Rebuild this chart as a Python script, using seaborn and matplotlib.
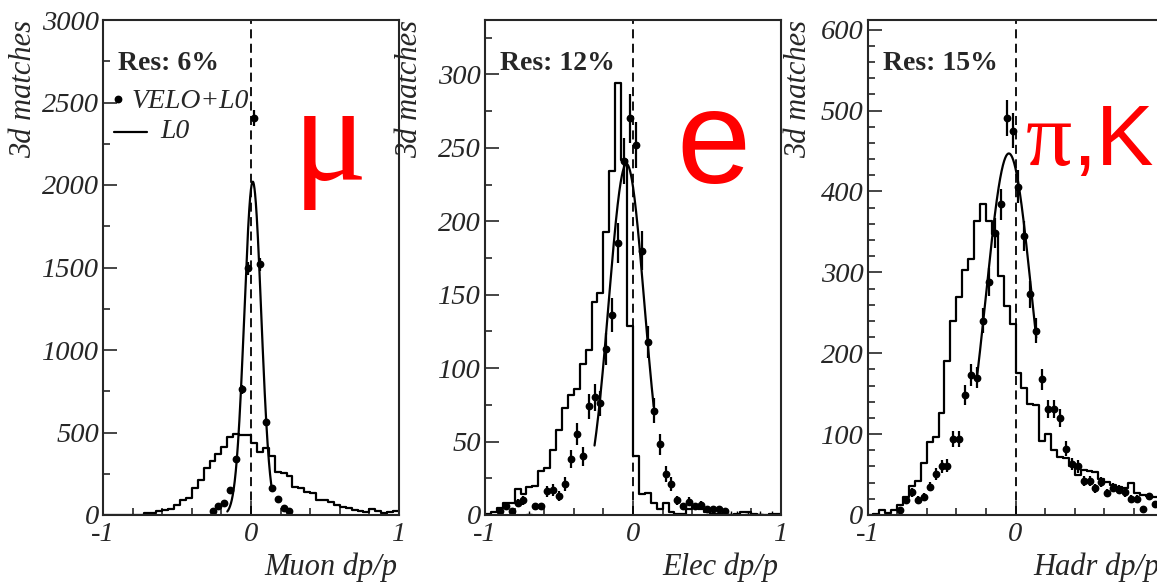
import matplotlib
matplotlib.use('Agg')
import numpy as np
import pandas as pd
import seaborn as sns
import matplotlib.pyplot as plt
from matplotlib.ticker import MultipleLocator

# =========================================
# DATA  (50 bins of 0.04 on [-1, 1])
# =========================================

bin_width = 0.04
bin_centers = np.arange(-1 + bin_width / 2, 1, bin_width)

# L0 only: histogram counts per bin
muon_l0 = [0, 0, 0, 0, 0, 0, 3, 12, 15, 24,
           30, 34, 62, 88, 105, 165, 215, 285, 330, 368,
           410, 475, 490, 487, 483, 438, 384, 404, 360, 263,
           252, 236, 172, 162, 141, 131, 91, 91, 81, 61,
           47, 40, 30, 26, 20, 34, 26, 14, 20, 26]
elec_l0 = [1, 2, 5, 8, 8, 18, 14, 19, 20, 30,
           32, 44, 58, 73, 82, 86, 103, 112, 145, 151,
           193, 234, 294, 242, 129, 40, 14, 15, 8, 4,
           8, 2, 1, 1, 4, 6, 4, 2, 1, 1,
           0, 0, 1, 2, 2, 1, 0, 0, 1, 1]
hadr_l0 = [0, 1, 6, 2, 6, 12, 22, 36, 42, 64,
           90, 96, 126, 191, 240, 270, 303, 316, 364, 384,
           363, 348, 295, 258, 236, 176, 157, 137, 136, 91,
           100, 80, 72, 70, 60, 50, 56, 55, 53, 44,
           41, 37, 35, 34, 40, 27, 25, 24, 22, 22]

# VELO+L0: counts per bin (0 = empty bin, not drawn)
muon_velo = [0, 0, 0, 0, 0, 0, 0, 0, 0, 0,
             0, 0, 0, 0, 0, 0, 0, 0, 24, 55,
             75, 152, 337, 763, 1495, 2404, 1519, 562, 162, 97,
             40, 24, 0, 0, 0, 0, 0, 0, 0, 0,
             0, 0, 0, 0, 0, 0, 0, 0, 0, 0]
elec_velo = [0, 0, 3, 6, 3, 8, 10, 1, 6, 6,
             16, 17, 13, 21, 38, 55, 40, 74, 80, 76,
             113, 136, 185, 241, 270, 252, 180, 118, 71, 48,
             28, 21, 10, 6, 9, 6, 7, 4, 4, 4,
             3, 1, 1, 0, 1, 0, 1, 0, 1, 0]
hadr_velo = [0, 0, 0, 0, 0, 6, 18, 28, 19, 22,
             35, 51, 60, 61, 94, 94, 148, 173, 170, 240,
             288, 349, 384, 491, 475, 406, 345, 273, 228, 168,
             131, 131, 120, 82, 63, 60, 42, 42, 33, 41,
             27, 34, 31, 28, 20, 20, 8, 23, 14, 15]

# gaussian fit on VELO+L0
fit_amp = [2020, 239, 447]
fit_mean = [0.012, -0.044, -0.045]
fit_sigma = [0.057, 0.12, 0.155]
fit_lo = [-0.16, -0.26, -0.26]
fit_hi = [0.14, 0.14, 0.14]

panel_res = ["Res: 6%", "Res: 12%", "Res: 15%"]
panel_xlabel = ["Muon dp/p", "Elec dp/p", "Hadr dp/p"]
panel_ymax = [3000, 337, 612]
panel_ymajor = [500, 50, 100]
panel_yminor = [250, 25, 20]

l0_all = [muon_l0, elec_l0, hadr_l0]
velo_all = [muon_velo, elec_velo, hadr_velo]

# =========================================
# STYLE
# =========================================

sns.set_style("ticks")
plt.rcParams['font.family'] = ['Liberation Serif', 'DejaVu Serif']
plt.rcParams['font.style'] = 'italic'
plt.rcParams['axes.unicode_minus'] = False
plt.rcParams['axes.linewidth'] = 1.5

W, H = 1157, 584
fig = plt.figure(figsize=(W / 100, H / 100), dpi=100)

ax_left_px = [103, 485, 867.5]
ylab_x_px = [24, 410, 799]
xlab_right_px = [397, 778, 1160]
res_x_px = [118, 500, 883]

for i in range(3):

    ax = fig.add_axes([ax_left_px[i] / W, 69 / H, 296 / W, 495 / H])

    # L0 histogram
    df_l0 = pd.DataFrame({"dpp": bin_centers, "n": l0_all[i]})
    sns.histplot(
        data=df_l0,
        x="dpp",
        weights="n",
        binwidth=bin_width,
        binrange=(-1, 1),
        element="step",
        fill=False,
        color="black",
        linewidth=1.6,
        ax=ax
    )

    # VELO+L0 points with poisson errors
    velo = np.array(velo_all[i], dtype=float)
    big = velo > 1
    small = (velo > 0) & (velo <= 1)
    ax.errorbar(
        bin_centers[big], velo[big], yerr=np.sqrt(velo[big]),
        fmt='o', ms=4.6, color='black', elinewidth=1.6, capsize=0
    )
    if small.any():
        ax.plot(bin_centers[small], velo[small], '+', ms=5,
                color='black', mew=1.0)

    # fit curve
    fx = np.linspace(fit_lo[i], fit_hi[i], 300)
    fy = fit_amp[i] * np.exp(-(fx - fit_mean[i]) ** 2 / (2 * fit_sigma[i] ** 2))
    sns.lineplot(x=fx, y=fy, color="black", linewidth=1.6, ax=ax)

    ax.axvline(0, color='black', linestyle=(0, (5, 3)), linewidth=1.3)

    ax.set_xlim(-1, 1)
    ax.set_ylim(0, panel_ymax[i])
    ax.set_xlabel("")
    ax.set_ylabel("")

    ax.set_xticks([-1, 0, 1])
    ax.set_xticklabels(["-1", "0", "1"])
    ax.xaxis.set_minor_locator(MultipleLocator(0.2))
    ax.yaxis.set_major_locator(MultipleLocator(panel_ymajor[i]))
    ax.yaxis.set_minor_locator(MultipleLocator(panel_yminor[i]))

    ax.tick_params(axis='both', which='major', direction='in', length=10,
                   width=1.2, labelsize=20.5, top=False, right=False)
    ax.tick_params(axis='both', which='minor', direction='in', length=5,
                   width=1.2, top=False, right=False)
    ax.tick_params(axis='y', which='major', pad=3)
    ax.tick_params(axis='x', which='major', pad=5)

    # axis titles
    fig.text(ylab_x_px[i] / W, 1 - 20 / H, "3d matches", rotation=90,
             ha='center', va='top', fontsize=22)
    fig.text(xlab_right_px[i] / W, 1 - 575 / H, panel_xlabel[i],
             ha='right', va='baseline', fontsize=22)

    # resolution box
    fig.text(res_x_px[i] / W, 1 - 70.5 / H, panel_res[i],
             ha='left', va='baseline', fontsize=20,
             fontweight='bold', fontstyle='normal')

# =========================================
# LEGEND (first panel) AND PARTICLE LABELS
# =========================================

fig.lines.append(plt.Line2D([118 / W], [1 - 99 / H], marker='o', ms=4.6,
                            color='black', transform=fig.transFigure))
fig.text(132 / W, 1 - 108 / H, "VELO+L0", ha='left', va='baseline', fontsize=20)
fig.lines.append(plt.Line2D([114 / W, 147 / W], [1 - 131.5 / H, 1 - 131.5 / H],
                            color='black', lw=1.6, transform=fig.transFigure))
fig.text(160 / W, 1 - 138 / H, "L0", ha='left', va='baseline', fontsize=20)

red = '#ff0000'
fig.text(293 / W, 1 - 180 / H, "\u03bc", color=red, fontsize=100,
         fontstyle='normal', family=['Liberation Serif', 'DejaVu Serif'],
         ha='left', va='baseline')
fig.text(676 / W, 1 - 183 / H, "e", color=red, fontsize=96,
         fontstyle='normal', family=['Liberation Sans', 'DejaVu Sans'],
         ha='left', va='baseline')
fig.text(1026 / W, 1 - 165 / H, "\u03c0", color=red, fontsize=66,
         fontstyle='normal', family=['Liberation Serif', 'DejaVu Serif'],
         ha='left', va='baseline')
fig.text(1072 / W, 1 - 165 / H, ",K", color=red, fontsize=62,
         fontstyle='normal', family=['Liberation Sans', 'DejaVu Sans'],
         ha='left', va='baseline')

fig.savefig("out.png", dpi=100)
plt.close(fig)
